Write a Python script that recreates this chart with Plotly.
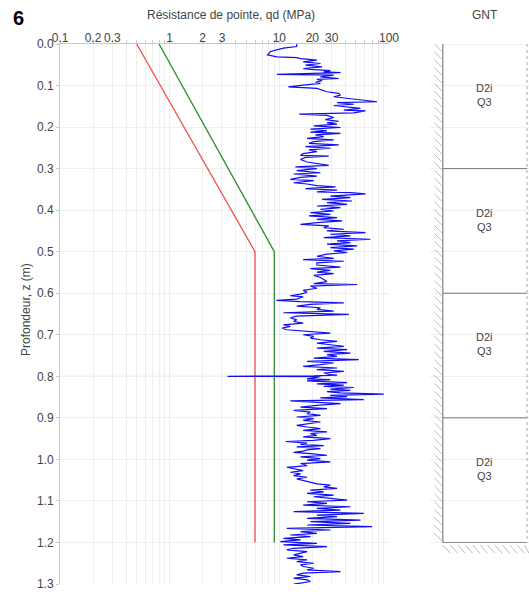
import plotly.graph_objects as go

# ---------------- data ----------------
# cone resistance trace qd (MPa) versus depth z (m) in sections
z_sec1 = [0.000, 0.006, 0.010, 0.018, 0.026, 0.031, 0.033, 0.035, 0.039, 0.043,
          0.047, 0.051, 0.055, 0.059, 0.061, 0.064, 0.067, 0.069, 0.073, 0.075,
          0.079, 0.083, 0.085, 0.088, 0.092, 0.095, 0.099, 0.103, 0.107, 0.111,
          0.115, 0.119, 0.123, 0.127, 0.131, 0.135, 0.139, 0.141, 0.145, 0.148,
          0.151, 0.155, 0.159, 0.161, 0.166, 0.169, 0.172, 0.177, 0.182, 0.186,
          0.190, 0.193, 0.197, 0.201, 0.205, 0.209, 0.212, 0.215, 0.219, 0.223,
          0.227, 0.231, 0.235, 0.239, 0.243, 0.247, 0.251, 0.255, 0.259, 0.264, 0.268]
qd_sec1 = [14.4, 14.4, 10.9, 8.3, 7.8, 9.5, 14.4, 15.6, 22.0, 16.5,
           23.7, 17.3, 24.5, 16.5, 19.2, 29.2, 25.4, 36.1, 9.5, 31.3,
           23.7, 34.8, 22.0, 24.5, 21.3, 23.7, 16.5, 12.1, 22.0, 24.5,
           27.2, 34.8, 36.1, 31.3, 44.5, 58.9, 77.9, 33.6, 47.7, 31.3,
           38.7, 54.9, 38.7, 61.0, 47.7, 15.2, 27.2, 31.3, 26.3, 34.8,
           27.2, 33.6, 20.6, 36.1, 19.2, 27.2, 19.2, 36.1, 21.3, 25.4,
           17.9, 31.3, 20.6, 18.6, 34.8, 17.3, 29.2, 18.6, 22.0, 16.5, 15.6]

z_sec2 = [0.270, 0.273, 0.278, 0.284, 0.292, 0.296, 0.300, 0.305, 0.310, 0.313,
          0.318, 0.321, 0.326, 0.329, 0.334, 0.337, 0.341, 0.344, 0.348, 0.352,
          0.356, 0.358, 0.361, 0.366, 0.370, 0.374, 0.378, 0.382, 0.386, 0.390,
          0.394, 0.398, 0.402, 0.406, 0.410, 0.414, 0.418, 0.422, 0.426, 0.430,
          0.434, 0.438, 0.442, 0.446, 0.450, 0.454, 0.458, 0.462, 0.466, 0.470,
          0.474, 0.478, 0.482, 0.486, 0.490, 0.494, 0.498, 0.502, 0.506, 0.511,
          0.516, 0.519, 0.523, 0.527]
qd_sec2 = [28.2, 17.3, 15.6, 17.9, 28.2, 14.0, 22.0, 14.4, 23.7, 13.5,
           22.0, 15.6, 12.6, 20.6, 13.5, 17.9, 22.0, 32.5, 17.3, 33.6,
           22.0, 44.5, 61.0, 29.2, 44.5, 24.5, 46.1, 27.2, 41.5, 22.0,
           36.1, 23.7, 31.3, 19.2, 29.2, 18.6, 33.6, 22.0, 37.4, 22.0,
           15.6, 28.2, 25.4, 38.7, 27.2, 61.0, 29.2, 44.5, 25.4, 67.7,
           33.6, 44.5, 27.2, 51.2, 29.2, 47.7, 31.3, 41.5, 27.2, 22.0,
           31.3, 16.5, 38.7, 22.0]

z_sec3 = [0.532, 0.537, 0.541, 0.545, 0.549, 0.553, 0.557, 0.562, 0.567, 0.572,
          0.577, 0.579, 0.583, 0.588, 0.593, 0.598, 0.602, 0.606, 0.609, 0.614,
          0.617, 0.620, 0.623, 0.627, 0.631, 0.635, 0.639, 0.643, 0.647, 0.651,
          0.655, 0.659, 0.664, 0.668, 0.672, 0.676, 0.680, 0.684, 0.688, 0.692,
          0.696, 0.700, 0.704, 0.708, 0.712, 0.716, 0.720, 0.724, 0.728, 0.732,
          0.736, 0.740, 0.744, 0.748, 0.752, 0.756, 0.760, 0.764, 0.768, 0.772,
          0.776, 0.780, 0.784, 0.788, 0.792, 0.796]
qd_sec3 = [22.0, 36.1, 19.2, 29.2, 22.0, 31.3, 20.6, 23.7, 25.4, 27.2,
           20.6, 51.2, 19.2, 22.0, 16.5, 17.9, 15.6, 12.6, 16.5, 14.4,
           9.4, 15.6, 38.7, 19.2, 14.4, 23.7, 22.0, 31.3, 10.9, 43.0,
           14.4, 12.6, 14.4, 13.5, 16.5, 10.9, 12.6, 10.6, 11.7, 17.9,
           29.2, 16.5, 20.6, 19.2, 23.7, 33.6, 22.0, 29.2, 38.7, 22.0,
           41.5, 25.4, 44.5, 27.2, 33.6, 20.6, 53.0, 17.9, 31.3, 23.7,
           16.5, 33.6, 22.0, 38.7, 25.4, 29.2]

z_sec4 = [0.797, 0.799, 0.800, 0.801, 0.806, 0.808, 0.811, 0.815, 0.818, 0.821,
          0.824, 0.827, 0.831, 0.834, 0.837, 0.840, 0.843, 0.846, 0.849, 0.852,
          0.856, 0.859, 0.863, 0.866, 0.870, 0.874, 0.878, 0.882, 0.886, 0.890,
          0.894, 0.898, 0.902, 0.906, 0.910, 0.914, 0.918, 0.922, 0.926, 0.930,
          0.934, 0.938, 0.942, 0.946, 0.950, 0.954, 0.957, 0.961, 0.964, 0.967,
          0.970, 0.974, 0.977, 0.980, 0.983, 0.986, 0.990, 0.994, 0.998, 1.002,
          1.006, 1.010, 1.015, 1.019, 1.023, 1.027, 1.031, 1.035, 1.039, 1.043,
          1.047, 1.051, 1.055, 1.059]
qd_sec4 = [33.6, 20.6, 3.37, 23.7, 17.9, 29.2, 17.9, 41.5, 22.0, 38.7,
           25.4, 47.7, 29.2, 44.5, 27.2, 36.1, 89.6, 29.2, 41.5, 23.7,
           58.9, 12.6, 23.7, 36.1, 22.0, 15.6, 27.2, 13.5, 19.2, 17.9,
           23.7, 14.4, 20.6, 16.5, 23.7, 19.2, 14.4, 17.9, 23.7, 16.5,
           27.2, 19.2, 22.0, 16.5, 29.2, 20.6, 11.4, 17.9, 15.6, 25.4,
           14.4, 23.7, 17.9, 16.5, 13.5, 19.2, 27.2, 15.6, 23.7, 17.9,
           29.2, 15.6, 17.9, 11.7, 13.5, 16.5, 12.6, 15.6, 13.5, 17.9,
           14.4, 16.5, 19.2, 22.0]

z_sec5 = [1.062, 1.066, 1.070, 1.074, 1.078, 1.082, 1.086, 1.090, 1.094, 1.098,
          1.102, 1.106, 1.110, 1.114, 1.118, 1.122, 1.126, 1.130, 1.134, 1.138,
          1.142, 1.146, 1.150, 1.154, 1.158, 1.162, 1.166, 1.170, 1.174, 1.178,
          1.182, 1.186, 1.190, 1.194, 1.198, 1.202, 1.206, 1.210, 1.214, 1.218,
          1.222, 1.226, 1.230, 1.234, 1.238, 1.242, 1.246, 1.250, 1.254, 1.258,
          1.262, 1.266, 1.270, 1.274, 1.278, 1.282, 1.286, 1.290, 1.294, 1.298,
          1.300]
qd_sec5 = [29.2, 25.4, 33.6, 19.2, 25.4, 17.9, 31.3, 20.6, 29.2, 41.5,
           17.9, 27.2, 16.5, 44.5, 22.0, 36.1, 13.5, 58.9, 22.0, 33.6,
           17.9, 54.9, 19.2, 44.5, 17.9, 70.1, 11.7, 29.2, 15.6, 22.0,
           12.6, 19.2, 10.9, 15.6, 10.2, 22.0, 10.9, 27.2, 13.5, 11.7,
           17.9, 15.6, 13.5, 16.5, 11.7, 17.9, 14.4, 20.6, 15.6, 16.5,
           20.6, 17.9, 36.1, 16.5, 14.4, 19.2, 13.5, 17.9, 19.2, 15.6,
           13.5]

# reference curves (red / green)
red_qd = [0.5, 6.0, 6.0]
red_z = [0.0, 0.5, 1.2]
green_qd = [0.8, 9.0, 9.0]
green_z = [0.0, 0.5, 1.2]

# marker depth (pale horizontal line)
marker_depth = 0.8

# geological column (GNT)
layer_top = [0.0, 0.3, 0.6, 0.9]
layer_bottom = [0.3, 0.6, 0.9, 1.2]
layer_label = ["D2i<br>Q3", "D2i<br>Q3", "D2i<br>Q3", "D2i<br>Q3"]

# ticks
x_tick_vals = [0.1, 0.2, 0.3, 0.4, 0.5, 0.6, 0.7, 0.8, 0.9,
               1, 2, 3, 4, 5, 6, 7, 8, 9,
               10, 20, 30, 40, 50, 60, 70, 80, 90, 100]
x_tick_text = ["0.1", "0.2", "0.3", "", "", "", "", "", "",
               "1", "2", "3", "", "", "", "", "", "",
               "10", "20", "30", "", "", "", "", "", "", "100"]
y_tick_vals = [0.0, 0.1, 0.2, 0.3, 0.4, 0.5, 0.6, 0.7, 0.8, 0.9, 1.0, 1.1, 1.2, 1.3]

# ---------------- figure ----------------
qd_all = qd_sec1 + qd_sec2 + qd_sec3 + qd_sec4 + qd_sec5
z_all = z_sec1 + z_sec2 + z_sec3 + z_sec4 + z_sec5

FONT = "Liberation Sans, Arial, sans-serif"
TXT = "#444444"

fig = go.Figure()
fig.add_trace(go.Scatter(x=red_qd, y=red_z, mode="lines",
                         line=dict(color="#f05050", width=1.3),
                         xaxis="x", yaxis="y", hoverinfo="skip"))
fig.add_trace(go.Scatter(x=green_qd, y=green_z, mode="lines",
                         line=dict(color="#2e8b2e", width=1.3),
                         xaxis="x", yaxis="y", hoverinfo="skip"))
fig.add_trace(go.Scatter(x=qd_all, y=z_all, mode="lines",
                         line=dict(color="#1010ee", width=1.2),
                         xaxis="x", yaxis="y"))

shapes = []
# pale horizontal marker line
shapes.append(dict(type="line", xref="x domain", yref="y", x0=0, x1=1,
                   y0=marker_depth, y1=marker_depth,
                   line=dict(color="rgba(215,215,140,0.75)", width=1), layer="below"))

# geological column in xaxis2 units (0..1)
col_l, col_r = 0.13, 0.98
col_top = layer_top[0]
col_bot = layer_bottom[-1]
for t in layer_top:
    color = "#dddddd" if t == col_top else "#777777"
    shapes.append(dict(type="line", xref="x2", yref="y", x0=col_l, x1=col_r,
                       y0=t, y1=t, line=dict(color=color, width=1)))
shapes.append(dict(type="line", xref="x2", yref="y", x0=col_l, x1=col_r,
                   y0=col_bot, y1=col_bot, line=dict(color="#888888", width=1)))
shapes.append(dict(type="line", xref="x2", yref="y", x0=col_l, x1=col_l,
                   y0=col_top, y1=col_bot, line=dict(color="#666666", width=1)))
shapes.append(dict(type="line", xref="x2", yref="y", x0=col_r, x1=col_r,
                   y0=col_top, y1=col_bot, line=dict(color="#aaaaaa", width=1, dash="dot")))
# hatching on the left side
hz = 0.0
step_z = 0.019
while hz < col_bot - 0.005:
    shapes.append(dict(type="line", xref="x2", yref="y", x0=0.045, x1=col_l - 0.005,
                       y0=hz, y1=min(hz + step_z, col_bot),
                       line=dict(color="#aaaaaa", width=0.8)))
    hz += step_z
# hatching below the column
hx = col_l
while hx < col_r:
    shapes.append(dict(type="line", xref="x2", yref="y", x0=hx, x1=min(hx + 0.075, col_r + 0.02),
                       y0=col_bot + 0.006, y1=col_bot + 0.026,
                       line=dict(color="#aaaaaa", width=0.8)))
    hx += 0.075

annotations = []
for t, lab in zip(layer_top, layer_label):
    annotations.append(dict(xref="x2", yref="y", x=(col_l + col_r) / 2, y=t + 0.123,
                            xanchor="center", yanchor="middle",
                            text=lab, showarrow=False,
                            font=dict(family=FONT, size=11, color=TXT)))
annotations.append(dict(xref="paper", yref="paper", x=(231 - 60) / 469, y=(540 + 29) / 540,
                        xanchor="center", yanchor="middle",
                        text="Résistance de pointe, qd (MPa)", showarrow=False,
                        font=dict(family=FONT, size=12, color=TXT)))
annotations.append(dict(xref="paper", yref="paper", x=(485 - 60) / 469, y=(540 + 29) / 540,
                        xanchor="center", yanchor="middle",
                        text="GNT", showarrow=False,
                        font=dict(family=FONT, size=12, color=TXT)))
annotations.append(dict(xref="paper", yref="paper", x=(18 - 60) / 469, y=(540 + 26) / 540,
                        xanchor="center", yanchor="middle",
                        text="<b>6</b>", showarrow=False,
                        font=dict(family=FONT, size=20, color="#000000")))
annotations.append(dict(xref="paper", yref="paper", x=(26 - 60) / 469, y=(584 - 310) / 540,
                        xanchor="center", yanchor="middle",
                        text="Profondeur, z (m)", showarrow=False, textangle=-90,
                        font=dict(family=FONT, size=12, color=TXT)))

fig.update_layout(
    width=529, height=595,
    margin=dict(l=60, r=0, t=44, b=11, autoexpand=False),
    paper_bgcolor="white", plot_bgcolor="white",
    showlegend=False,
    font=dict(family=FONT, size=12, color=TXT),
    xaxis=dict(type="log", range=[-1, 2], domain=[0, 329 / 469], side="top",
               tickvals=x_tick_vals, ticktext=x_tick_text, tickangle=0,
               showgrid=True, gridcolor="#eeeeee", gridwidth=1,
               showline=True, linecolor="#c8c8c8", linewidth=1,
               ticks="outside", ticklen=3, tickcolor="#cccccc",
               ticklabelstandoff=-7,
               tickfont=dict(family=FONT, size=12, color=TXT),
               zeroline=False, anchor="y", fixedrange=True, automargin=False),
    yaxis=dict(range=[1.3, 0], domain=[0, 1],
               tickvals=y_tick_vals, tickformat=".1f",
               showgrid=True, gridcolor="#eeeeee", gridwidth=1,
               showline=True, linecolor="#c8c8c8", linewidth=1,
               ticks="outside", ticklen=3, tickcolor="#cccccc",
               tickfont=dict(family=FONT, size=12, color=TXT),
               zeroline=False, anchor="x", fixedrange=True, automargin=False),
    xaxis2=dict(domain=[(430 - 60) / 469, 1], range=[0, 1], visible=False,
                anchor="y", fixedrange=True),
    shapes=shapes,
    annotations=annotations,
)

fig.write_html("out.html", config={"displayModeBar": False},
               post_script="document.body.style.margin='0';document.body.style.overflow='hidden';")
